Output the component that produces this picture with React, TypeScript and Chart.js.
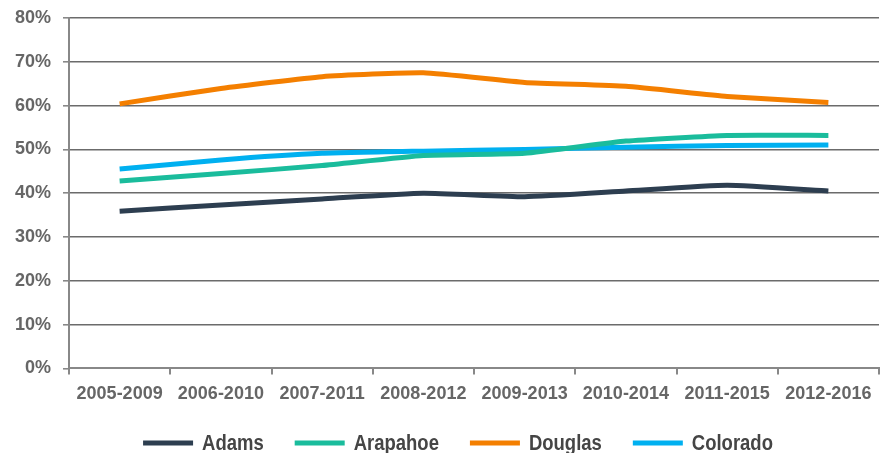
import React, { useEffect, useRef } from "react";
import { Chart, registerables } from "chart.js";

Chart.register(...registerables);

const categories = ["2005-2009", "2006-2010", "2007-2011", "2008-2012", "2009-2013", "2010-2014", "2011-2015", "2012-2016"];
const adams = [35.9, 37.3, 38.7, 40.0, 39.2, 40.5, 41.8, 40.5];
const arapahoe = [42.8, 44.5, 46.3, 48.6, 49.1, 51.9, 53.2, 53.2];
const douglas = [60.4, 63.9, 66.6, 67.5, 65.3, 64.4, 62.1, 60.7];
const colorado = [45.5, 47.6, 49.1, 49.6, 50.0, 50.5, 50.9, 51.0];
const yTicks = [0, 10, 20, 30, 40, 50, 60, 70, 80];

const FONT = "'Liberation Sans', Arial, sans-serif";

const customLegend = {
  id: "customLegend",
  afterDraw(chart: any) {
    const ctx = chart.ctx as CanvasRenderingContext2D;
    const ds = chart.data.datasets;
    const sx = 0.84;
    const boxW = 50;
    const boxH = 5;
    const gapText = 9;
    const gapItem = 31;
    const centerX = 458;
    const cy = 443;
    ctx.save();
    ctx.font = `bold 22px ${FONT}`;
    const widths = ds.map((d: any) => ctx.measureText(d.label).width * sx);
    let total = 0;
    widths.forEach((w: number, i: number) => {
      total += boxW + gapText + w + (i < widths.length - 1 ? gapItem : 0);
    });
    let x = centerX - total / 2;
    ds.forEach((d: any, i: number) => {
      ctx.fillStyle = d.borderColor;
      ctx.fillRect(x, cy - boxH / 2, boxW, boxH);
      const tx = x + boxW + gapText;
      ctx.save();
      ctx.translate(tx, cy);
      ctx.scale(sx, 1);
      ctx.fillStyle = "#454545";
      ctx.textBaseline = "middle";
      ctx.textAlign = "left";
      ctx.fillText(d.label, 0, 1);
      ctx.restore();
      x = tx + widths[i] + gapItem;
    });
    ctx.restore();
  },
};

export default function App() {
  const ref = useRef<HTMLCanvasElement | null>(null);
  useEffect(() => {
    if (!ref.current) return;
    const mk = (label: string, data: number[], color: string) => ({
      label,
      data,
      borderColor: color,
      backgroundColor: color,
      borderWidth: 5,
      pointRadius: 0,
      tension: 0.15,
      fill: false,
    });
    const chart = new Chart(ref.current, {
      type: "line",
      data: {
        labels: categories,
        datasets: [
          mk("Adams", adams, "#2d3e50"),
          mk("Arapahoe", arapahoe, "#1abc9c"),
          mk("Douglas", douglas, "#f47f00"),
          mk("Colorado", colorado, "#00b0f0"),
        ],
      },
      plugins: [customLegend],
      options: {
        animation: false,
        responsive: true,
        maintainAspectRatio: false,
        layout: { padding: { top: 18, right: 6, left: 0, bottom: 39 } },
        plugins: {
          tooltip: { enabled: false },
          legend: { display: false },
        },
        scales: {
          x: {
            offset: true,
            grid: {
              offset: true,
              drawOnChartArea: false,
              tickLength: 6,
              color: "#888",
              lineWidth: 2,
            },
            border: { color: "#888", width: 2 },
            ticks: {
              color: "#666",
              padding: 9,
              maxRotation: 0,
              autoSkip: false,
              font: { family: FONT, size: 18, weight: "bold" },
            },
          },
          y: {
            min: 0,
            max: 80,
            afterFit: (s: any) => {
              s.width = 69;
              s.paddingTop = 0;
              s.paddingBottom = 0;
            },
            afterBuildTicks: (s: any) => {
              s.ticks = yTicks.map((v) => ({ value: v }));
            },
            grid: {
              color: (ctx: any) => (ctx.tick && ctx.tick.value === 0 ? "rgba(0,0,0,0)" : "#6b6b6b"),
              lineWidth: 1.6,
              tickLength: 6,
              tickColor: "#888",
            },
            border: { color: "#888", width: 2 },
            ticks: {
              color: "#666",
              padding: 12,
              callback: (v: any) => v + "%",
              font: { family: FONT, size: 18, weight: "bold" },
            },
          },
        },
      },
    });
    return () => chart.destroy();
  }, []);
  return (
    <div style={{ position: "fixed", left: 0, top: 0, width: 885, height: 453, background: "#fff" }}>
      <canvas ref={ref} />
    </div>
  );
}
